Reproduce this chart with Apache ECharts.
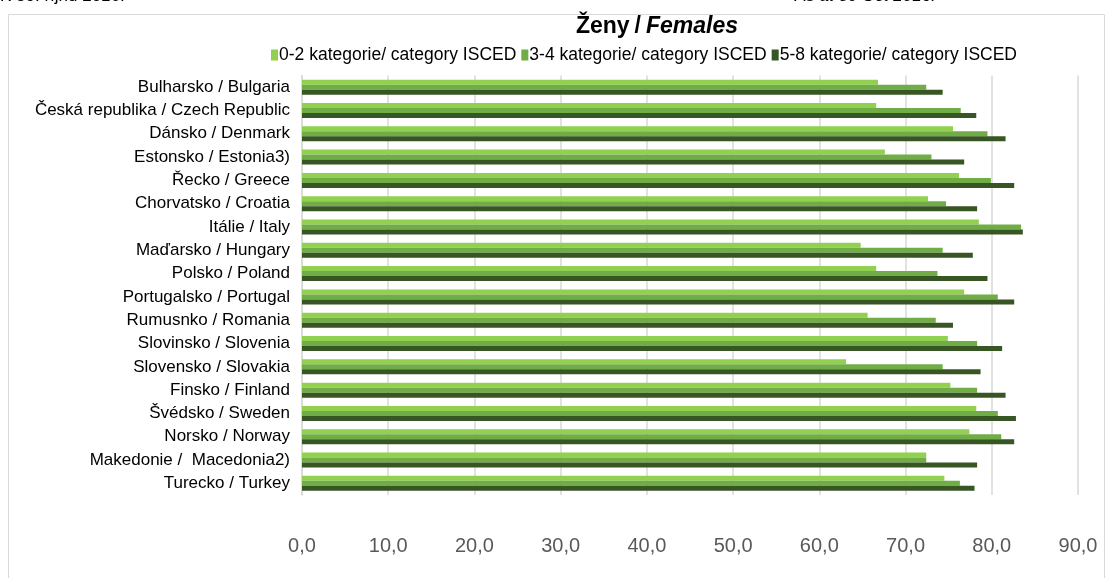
<!DOCTYPE html>
<html>
<head>
<meta charset="utf-8">
<script src="https://cdn.jsdelivr.net/npm/echarts@6/dist/echarts.min.js"></script>
<style>html,body{margin:0;padding:0;background:#fff}#c{width:1112px;height:578px}</style>
</head>
<body>
<div id="c"></div>
<script>
const categories = [
  'Bulharsko / Bulgaria','Česká republika / Czech Republic','Dánsko / Denmark','Estonsko / Estonia3)',
  'Řecko / Greece','Chorvatsko / Croatia','Itálie / Italy','Maďarsko / Hungary','Polsko / Poland',
  'Portugalsko / Portugal','Rumusnko / Romania','Slovinsko / Slovenia','Slovensko / Slovakia',
  'Finsko / Finland','Švédsko / Sweden','Norsko / Norway','Makedonie /  Macedonia2)','Turecko / Turkey'
];
const seriesNames = ['0-2 kategorie/ category ISCED','3-4 kategorie/ category ISCED','5-8 kategorie/ category ISCED'];
const isced02 = [66.8,66.6,75.5,67.6,76.2,72.6,78.5,64.8,66.6,76.8,65.6,74.9,63.1,75.2,78.2,77.4,72.4,74.5];
const isced34 = [72.4,76.4,79.5,73.0,79.9,74.7,83.4,74.3,73.7,80.7,73.5,78.3,74.3,78.3,80.7,81.1,72.4,76.3];
const isced58 = [74.3,78.2,81.6,76.8,82.6,78.3,83.6,77.8,79.5,82.6,75.5,81.2,78.7,81.6,82.8,82.6,78.3,78.0];
const xTicks = {min:0, max:90, interval:10};

const colors = ['#92D050','#70AD47','#375623'];
const chart = echarts.init(document.getElementById('c'), null, {renderer:'canvas'});
const font = '"Liberation Sans", Arial, sans-serif';
chart.setOption({
  animation:false,
  textStyle:{fontFamily:font},
  title:{
    text:'{b|Ženy} {n|/} {i|Females}',
    left:652, top:10, textAlign:'center',
    textStyle:{rich:{
      b:{fontWeight:'bold',fontSize:23,color:'#000',fontFamily:font},
      n:{fontSize:23,color:'#000',fontFamily:font},
      i:{fontStyle:'italic',fontSize:23,color:'#000',fontFamily:font}
    }}
  },
  legend:{
    top:41, left:266, itemWidth:7, itemHeight:11, itemGap:5,
    icon:'rect',
    textStyle:{fontSize:17.5,color:'#000',fontFamily:font,padding:[0,0,0,-4]},
    data:seriesNames
  },
  graphic:[
    {type:'rect',shape:{x:8.5,y:14.5,width:1096,height:570},style:{fill:'none',stroke:'#d9d9d9',lineWidth:1},silent:true},
    {type:'text',left:0,top:-12.5,style:{text:'K 30. říjnu 2016.',fontSize:17,fill:'#000',fontFamily:font}},
    {type:'text',left:795,top:-12.5,style:{text:'As at 30 Oct 2016.',fontSize:17,fill:'#000',fontFamily:font,fontStyle:'italic'}}
  ],
  grid:{left:302,right:34,top:75.5,bottom:83,containLabel:false},
  xAxis:{
    type:'value', min:xTicks.min, max:xTicks.max, interval:xTicks.interval,
    axisLine:{show:false}, axisTick:{show:false},
    splitLine:{lineStyle:{color:'#d9d9d9',width:1.5}},
    axisLabel:{color:'#595959',fontSize:20,margin:41,fontFamily:font,
      formatter:v=>v.toFixed(1).replace('.',',')}
  },
  yAxis:{
    type:'category', data:categories, inverse:true,
    axisLine:{show:true,lineStyle:{color:'#d9d9d9',width:1.5}},
    axisTick:{show:false},
    axisLabel:{color:'#000',fontSize:17,margin:12,interval:0,fontFamily:font}
  },
  series:[isced02,isced34,isced58].map((d,i)=>({
    name:seriesNames[i], type:'bar', data:d, barWidth:5, barGap:'0%',
    itemStyle:{color:colors[i]}
  }))
});
</script>
</body>
</html>
